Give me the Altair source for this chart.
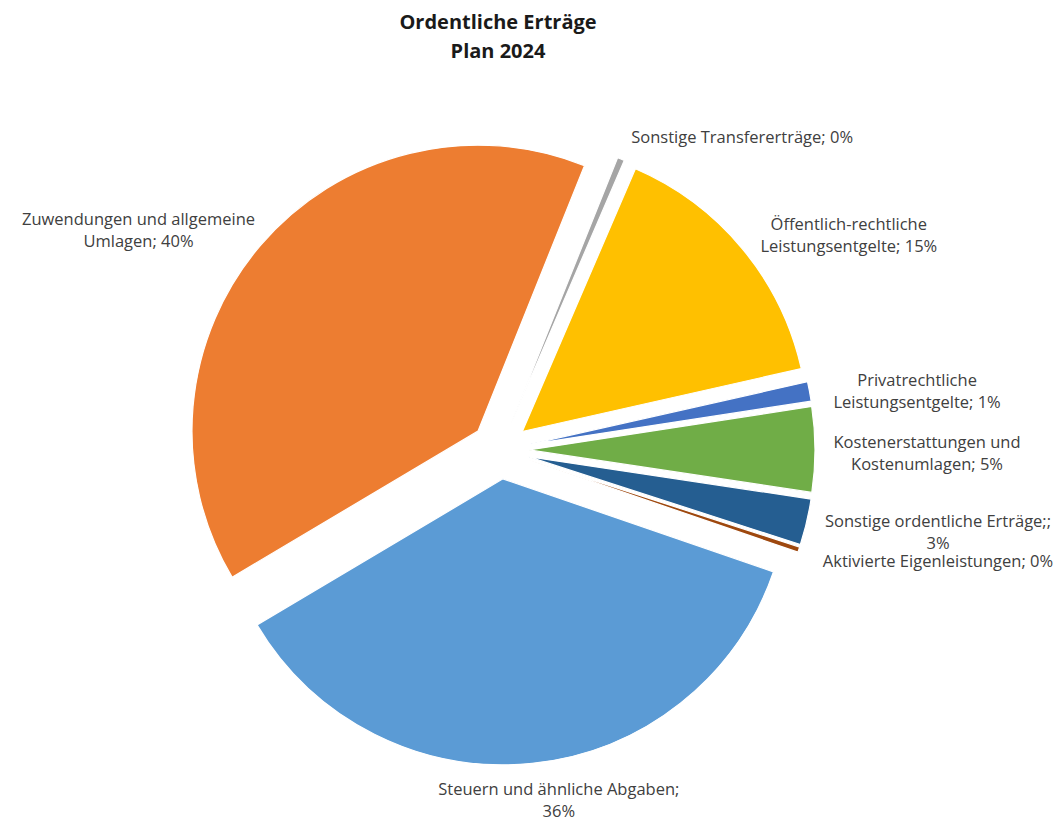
import altair as alt
import pandas as pd

# ---- data ----
categories = [
    "Steuern und ähnliche Abgaben",
    "Zuwendungen und allgemeine Umlagen",
    "Sonstige Transfererträge",
    "Öffentlich-rechtliche Leistungsentgelte",
    "Privatrechtliche Leistungsentgelte",
    "Kostenerstattungen und Kostenumlagen",
    "Sonstige ordentliche Erträge",
    "Aktivierte Eigenleistungen",
]
values = [36.2, 39.6, 0.4, 15.0, 1.1, 4.8, 2.6, 0.3]
label_prefix = [
    "Steuern und ähnliche Abgaben;\n",
    "Zuwendungen und allgemeine\nUmlagen; ",
    "Sonstige Transfererträge; ",
    "Öffentlich-rechtliche\nLeistungsentgelte; ",
    "Privatrechtliche\nLeistungsentgelte; ",
    "Kostenerstattungen und\nKostenumlagen; ",
    "Sonstige ordentliche Erträge;;\n",
    "Aktivierte Eigenleistungen; ",
]
colors = ["#5B9BD5", "#ED7D31", "#A5A5A5", "#FFC000",
          "#4472C4", "#70AD47", "#255E91", "#9E480E"]

df = pd.DataFrame({
    "order": list(range(len(categories))),
    "category": categories,
    "value": values,
    "prefix": label_prefix,
})

# ---- layout constants ----
W, H = 1046, 740       # plot area
CX, CY = 492, 372      # pie centre inside plot area
R = 286                # slice radius
E = 29                 # explosion distance
START = 1.902          # start angle (rad, clockwise from 12 o'clock)
RA = R + E + 24        # label anchor radius
CW = 8.0               # approx char width
LH = 22                # line height
XMAX = W + 4           # labels are kept inside the chart area
YMAX = H - 17

base = alt.Chart(df).transform_joinaggregate(
    total="sum(value)"
).transform_window(
    cum="sum(value)", sort=[alt.SortField("order")], frame=[None, 0]
).transform_calculate(
    a0=f"{START} + 2*PI*(datum.cum - datum.value)/datum.total",
    a1=f"{START} + 2*PI*datum.cum/datum.total",
).transform_calculate(
    mid="(datum.a0 + datum.a1)/2",
    label="datum.prefix + format(datum.value/datum.total, '.0%')",
).transform_calculate(
    px=f"{CX} + {E}*sin(datum.mid)",
    py=f"{CY} - {E}*cos(datum.mid)",
    idx="indexof(datum.label, '\\n')",
    s="sin(datum.mid)",
    c="cos(datum.mid)",
).transform_calculate(
    maxlen="datum.idx < 0 ? length(datum.label) : max(datum.idx, length(datum.label) - datum.idx - 1)",
    nl="datum.idx < 0 ? 1 : 2",
).transform_calculate(
    hw=f"{CW/2}*datum.maxlen",
    hh=f"{LH/2}*datum.nl",
).transform_calculate(
    lx0=f"{CX} + {RA}*datum.s + (datum.s < 0 ? -1 : 1)*datum.hw*clamp(4*(abs(datum.s) - 0.05), 0, 1)",
    ly0=f"{CY} - {RA}*datum.c - datum.hh*0.5*pow(datum.c, 3) + 5",
).transform_calculate(
    lx=f"clamp(datum.lx0, datum.hw - 4, {XMAX} - datum.hw)",
    # first line position so that the whole block is centred on ly0
    ly=f"clamp(datum.ly0, datum.hh, {YMAX}) - (datum.nl - 1)*{LH/2}",
)

arcs = base.mark_arc(outerRadius=R, stroke="white", strokeWidth=1.2).encode(
    theta=alt.Theta("a0:Q", scale=None),
    theta2=alt.Theta2("a1:Q"),
    x=alt.X("px:Q", scale=None, axis=None),
    y=alt.Y("py:Q", scale=None, axis=None),
    color=alt.Color("category:N", scale=alt.Scale(domain=categories, range=colors), legend=None),
)

texts = base.mark_text(
    align="center", baseline="middle", lineBreak="\n",
    font="Open Sans", fontSize=16.5, color="#404040", lineHeight=LH,
).encode(
    x=alt.X("lx:Q", scale=None, axis=None),
    y=alt.Y("ly:Q", scale=None, axis=None),
    text="label:N",
)

chart = alt.layer(arcs, texts).properties(
    width=W, height=H,
    autosize=alt.AutoSizeParams(type="none"),
    padding={"left": 0, "top": 70, "right": 0, "bottom": 0},
    title=alt.Title(["Ordentliche Erträge", "Plan 2024"], fontSize=20, fontWeight="bold",
                    font="Open Sans", color="#1a1a1a", anchor="middle", dx=-33,
                    offset=16, lineHeight=29),
).configure_view(stroke=None)

chart.save("out.html", embed_options={"renderer": "svg", "actions": False})
